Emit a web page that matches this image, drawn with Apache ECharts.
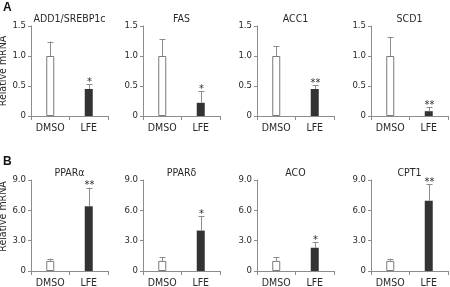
<!DOCTYPE html>
<html>
<head>
<meta charset="utf-8">
<script src="https://cdn.jsdelivr.net/npm/echarts@6/dist/echarts.min.js"></script>
<style>
html, body { margin: 0; padding: 0; background: #fff; }
#chart { width: 450px; height: 287px; }
</style>
</head>
<body>
<div id="chart"></div>
<script>
// data
var groups = ["DMSO", "LFE"];

var genesA = ["ADD1/SREBP1c", "FAS", "ACC1", "SCD1"];
var meanA = [[1.0, 0.45], [1.0, 0.22], [1.0, 0.45], [1.0, 0.08]];
var errA = [[0.24, 0.08], [0.28, 0.19], [0.16, 0.06], [0.32, 0.07]];
var starsA = ["*", "*", "**", "**"];
var yTicksA = [0, 0.5, 1.0, 1.5];

var genesB = ["PPARα", "PPARδ", "ACO", "CPT1"];
var meanB = [[1.0, 6.4], [1.0, 4.0], [1.0, 2.3], [1.0, 6.95]];
var errB = [[0.22, 1.85], [0.35, 1.45], [0.35, 0.55], [0.22, 1.62]];
var starsB = ["**", "*", "*", "**"];
var yTicksB = [0, 3.0, 6.0, 9.0];

var FONT = "'Liberation Sans Narrow', 'Arial Narrow', 'DejaVu Sans Condensed', Arial, sans-serif";
var TXT = "#2a2a2a";
var AXIS = "#8c8c8c";

var lefts = [31, 143, 257, 371];
var gridW = 77;
var rows = [
	{ top: 26, height: 90, genes: genesA, mean: meanA, err: errA, stars: starsA, ticks: yTicksA, letter: "A", letterY: 2, titleY: 19, namePad: [0, 0, 0, 0] },
	{ top: 180, height: 91, genes: genesB, mean: meanB, err: errB, stars: starsB, ticks: yTicksB, letter: "B", letterY: 156, titleY: 173, namePad: [0, 0, 0, 18] }
];

var grids = [], xAxes = [], yAxes = [], series = [], graphics = [];

function errorItem(params, api) {
	var top = api.value(1) + api.value(2);
	var p0 = api.coord([api.value(0), api.value(1)]);
	var p1 = api.coord([api.value(0), top]);
	var x = Math.round(p0[0]) + 0.5;
	var star = params.dataIndex == 1 ? api.value(3) : "";
	return {
		type: "group",
		children: [
			{ type: "line", shape: { x1: x, y1: p0[1], x2: x, y2: p1[1] }, style: { stroke: AXIS, lineWidth: 1 } },
			{ type: "line", shape: { x1: x - 3, y1: Math.round(p1[1]) + 0.5, x2: x + 3, y2: Math.round(p1[1]) + 0.5 }, style: { stroke: AXIS, lineWidth: 1 } },
			{ type: "text", style: { text: star, x: x, y: p1[1] - 2, align: "center", verticalAlign: "middle", fill: TXT, font: "11px " + FONT } }
		]
	};
}

rows.forEach(function (row, r) {
	graphics.push({ type: "text", left: 3, top: row.letterY, style: { text: row.letter, fill: "#111", font: "bold 12px Arial, sans-serif" } });
	for (var i = 0; i < 4; i++) {
		var g = grids.length;
		var t = row.ticks;
		grids.push({ left: lefts[i], top: row.top, width: gridW, height: row.height, outerBoundsMode: "none" });
		graphics.push({
			type: "text", x: lefts[i] + gridW / 2, y: row.titleY,
			style: { text: row.genes[i], fill: TXT, font: "10.5px " + FONT, align: "center", verticalAlign: "middle" }
		});
		xAxes.push({
			gridIndex: g, type: "category", data: groups,
			axisLine: { lineStyle: { color: AXIS, width: 1 } },
			axisTick: { show: true, length: 4, lineStyle: { color: AXIS } },
			axisLabel: { interval: 0, color: TXT, fontSize: 10.5, fontFamily: FONT, margin: 7, hideOverlap: false }
		});
		yAxes.push({
			gridIndex: g, type: "value", min: t[0], max: t[t.length - 1], interval: t[1] - t[0],
			name: i == 0 ? "Relative mRNA" : "", nameLocation: "middle", nameGap: 19,
			nameTextStyle: { color: TXT, fontSize: 10.5, fontFamily: FONT, padding: row.namePad },
			splitLine: { show: false },
			axisLine: { show: true, lineStyle: { color: AXIS, width: 1 } },
			axisTick: { show: true, length: 3, lineStyle: { color: AXIS } },
			axisLabel: {
				color: TXT, fontSize: 9.5, fontFamily: FONT, margin: 5,
				formatter: function (v) { return v === 0 ? "0" : v.toFixed(1); }
			}
		});
		series.push({
			type: "bar", xAxisIndex: g, yAxisIndex: g, barWidth: 8, silent: true,
			data: [
				{ value: row.mean[i][0], itemStyle: { color: "#fff", borderColor: "#7a7a7a", borderWidth: 1 } },
				{ value: row.mean[i][1], itemStyle: { color: "#333" } }
			]
		});
		series.push({
			type: "custom", xAxisIndex: g, yAxisIndex: g, z: 3, silent: true,
			renderItem: errorItem,
			data: [
				[0, row.mean[i][0], row.err[i][0], ""],
				[1, row.mean[i][1], row.err[i][1], row.stars[i]]
			]
		});
	}
});

var voChart = echarts.init(document.getElementById("chart"), null, { renderer: "canvas" });
voChart.setOption({
	animation: false,
	backgroundColor: "#fff",
	grid: grids,
	xAxis: xAxes,
	yAxis: yAxes,
	series: series,
	graphic: graphics
});
</script>
</body>
</html>
